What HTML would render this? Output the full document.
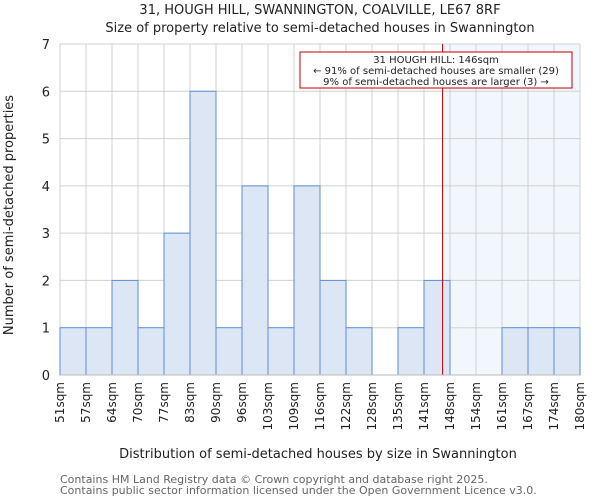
<!DOCTYPE html>
<html><head><meta charset="utf-8"><style>
body{margin:0;background:#fff;font-family:"DejaVu Sans","Liberation Sans",sans-serif}
svg text{font-family:"DejaVu Sans","Liberation Sans",sans-serif;fill:#222}
</style></head><body>
<svg id="c" width="600" height="500"></svg>
<script>
const labels=["51sqm","57sqm","64sqm","70sqm","77sqm","83sqm","90sqm","96sqm","103sqm","109sqm","116sqm","122sqm","128sqm","135sqm","141sqm","148sqm","154sqm","161sqm","167sqm","174sqm","180sqm"];
const counts=[1,1,2,1,3,6,1,4,1,4,2,1,0,1,2,0,0,1,1,1];
const yTicks=[0,1,2,3,4,5,6,7];
const subjectSize=146;
const binEdges=[51,57,64,70,77,83,90,96,103,109,116,122,128,135,141,148,154,161,167,174,180];
const L=60,R=580,T=44,B=375,NS="http://www.w3.org/2000/svg",svg=document.getElementById('c');
const bw=(R-L)/counts.length;
const x=i=>L+i*bw, y=v=>B-v*(B-T)/7;
function sizeX(s){for(let i=0;i<binEdges.length-1;i++){if(s<=binEdges[i+1])return x(i)+bw*(s-binEdges[i])/(binEdges[i+1]-binEdges[i]);}return R;}
function el(t,a,txt){const e=document.createElementNS(NS,t);for(const k in a)e.setAttribute(k,a[k]);if(txt!==undefined)e.textContent=txt;svg.appendChild(e);return e;}
let e;
const sx=sizeX(subjectSize);
e=el('rect',{x:sx,y:T,width:R-sx,height:B-T,fill:'#f2f6fd'});


for(let i=0;i<=counts.length;i++){e=el('line',{x1:x(i),x2:x(i),y1:T,y2:B,stroke:'#d0d0d0'});

}
yTicks.forEach(v=>{e=el('line',{x1:L,x2:R,y1:y(v),y2:y(v),stroke:'#d0d0d0'});


e=el('text',{x:L-10,y:y(v)+5,'font-size':13,'text-anchor':'end'},v);

});
counts.forEach((c,i)=>{if(!c)return;e=el('rect',{x:x(i),y:y(c),width:bw,height:B-y(c),fill:'#dce6f4',stroke:'#5b8fd6','stroke-width':1});

});
labels.forEach((l,i)=>{const px=x(i)+4;e=el('text',{x:0,y:0,'font-size':12,'text-anchor':'end',transform:`translate(${px},382) rotate(-90)`},l);

});
e=el('line',{x1:sx,x2:sx,y1:T,y2:B,stroke:'#c00000','stroke-width':1});


e=el('rect',{x:300,y:52,width:272,height:36,fill:'#fff',stroke:'#c00000','stroke-width':1});


[["31 HOUGH HILL: 146sqm",63],["← 91% of semi-detached houses are smaller (29)",74],["9% of semi-detached houses are larger (3) →",85]].forEach(a=>{e=el('text',{x:436,y:a[1],'font-size':10,'text-anchor':'middle'},a[0]);

});
e=el('line',{x1:L,x2:R,y1:B,y2:B,stroke:'#bbb'});


e=el('text',{x:320,y:14,'font-size':13,'text-anchor':'middle'},"31, HOUGH HILL, SWANNINGTON, COALVILLE, LE67 8RF");


e=el('text',{x:320,y:32,'font-size':13,'text-anchor':'middle'},"Size of property relative to semi-detached houses in Swannington");


e=el('text',{x:318,y:458,'font-size':13,'text-anchor':'middle'},"Distribution of semi-detached houses by size in Swannington");


e=el('text',{x:0,y:0,'font-size':13,'text-anchor':'middle',transform:'translate(13,215) rotate(-90)'},"Number of semi-detached properties");


e=el('text',{x:60,y:483,'font-size':11,style:'fill:#666'},"Contains HM Land Registry data © Crown copyright and database right 2025.");


e=el('text',{x:60,y:494,'font-size':11,style:'fill:#666'},"Contains public sector information licensed under the Open Government Licence v3.0.");


</script></body></html>
